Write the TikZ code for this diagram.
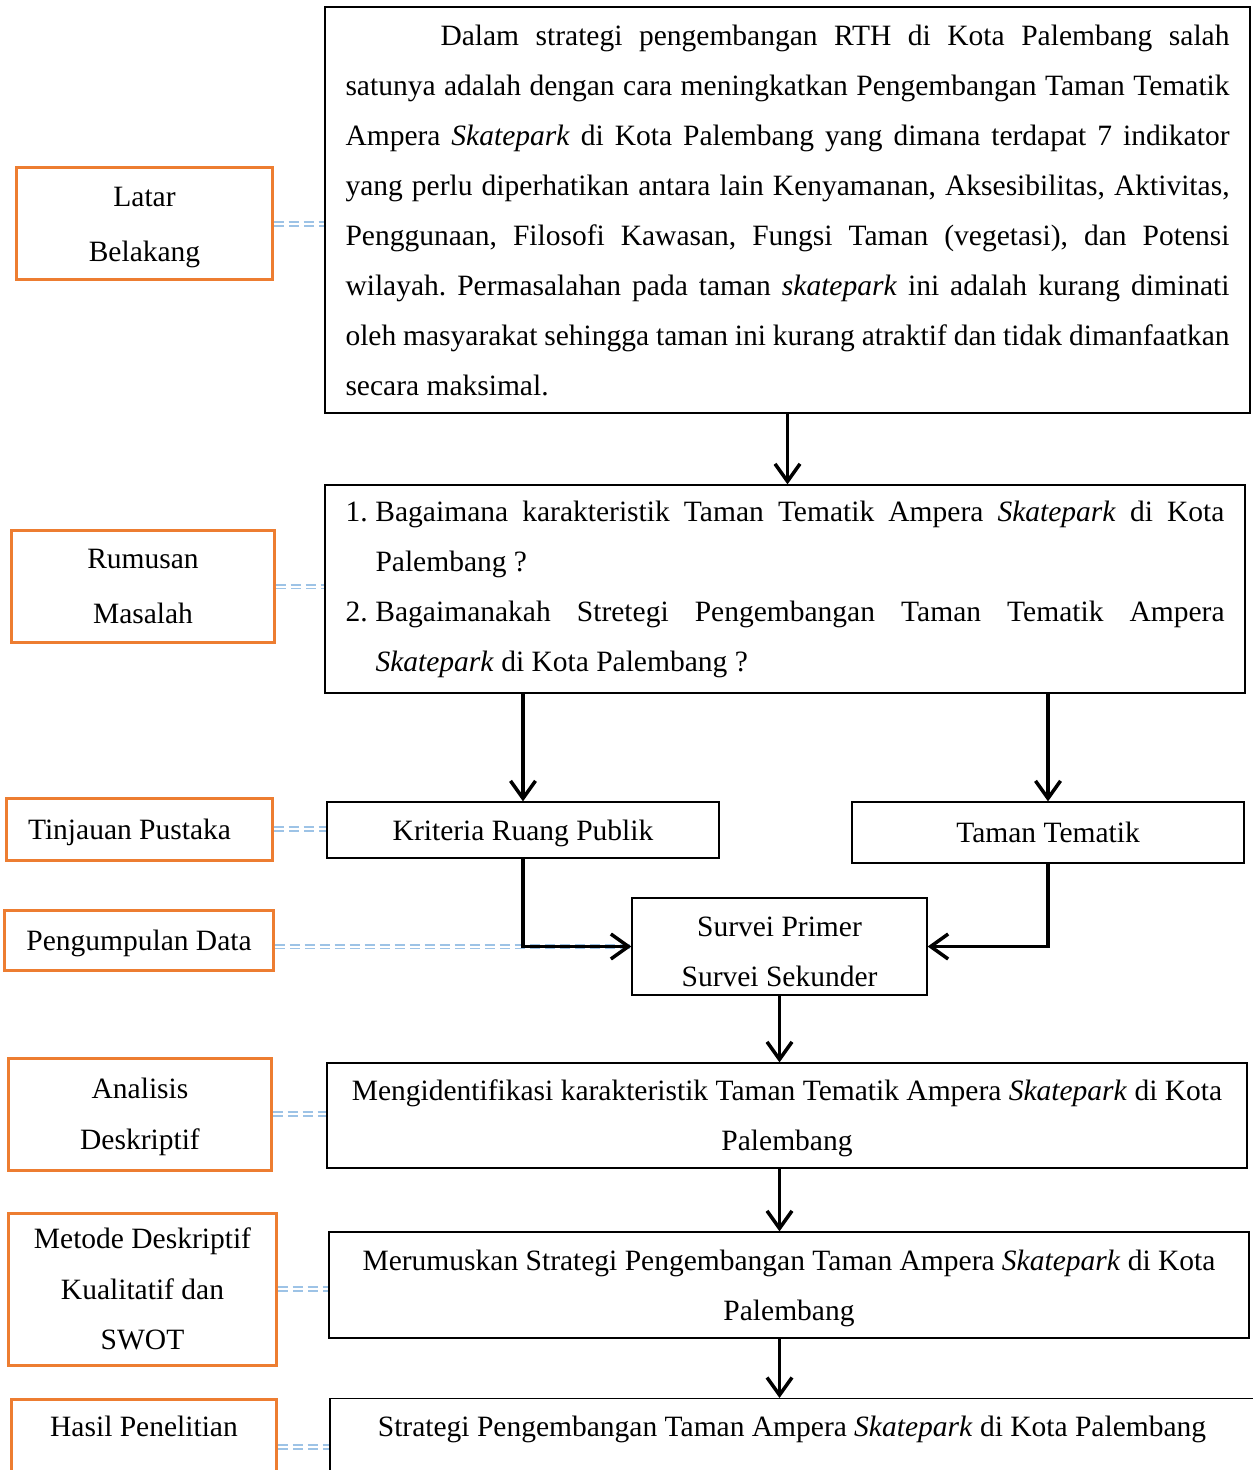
\documentclass[tikz,border=0pt]{standalone}
\usepackage{fontspec}
\setmainfont{Liberation Serif}
\usetikzlibrary{arrows.meta}
\definecolor{kotakOranye}{RGB}{237,125,49}
\definecolor{garisBiru}{RGB}{157,195,230}
\tikzset{
  kotakkiri/.style={draw=kotakOranye, line width=1.2pt, align=center, inner sep=2pt, text depth=0pt, font=\fontsize{11.8pt}{22pt}\selectfont},
  kotakkanan/.style={draw=black, line width=0.5pt, align=center, inner sep=2pt, text depth=0pt, font=\fontsize{11.8pt}{20pt}\selectfont},
  kotakisi/.style={draw=black, line width=0.5pt, align=justify, inner ysep=2pt, inner xsep=8.2pt, font=\fontsize{11.8pt}{20pt}\selectfont\frenchspacing},
  panah/.style={line width=1.4pt, -{Straight Barb[length=7pt,width=10pt]}},
  putus/.style={draw=garisBiru, line width=0.7pt, double=white, double distance=0.8pt, dash pattern=on 4pt off 2pt}
}
\begin{document}
\begin{tikzpicture}[x=0.4pt, y=-0.4pt]
	\useasboundingbox (0,0) rectangle (1252,1470);

	% kolom kiri
	\node[kotakkiri, minimum width=102pt, minimum height=44.8pt] (latar) at (144.5,224) {Latar\\Belakang};
	\node[kotakkiri, minimum width=104.8pt, minimum height=44.4pt] (rumusan) at (143,586.5) {Rumusan\\Masalah};
	\node[kotakkiri, minimum width=106pt, minimum height=24.8pt] (tinjauan) at (139.5,829) {\hspace*{-8pt}Tinjauan Pustaka};
	\node[kotakkiri, minimum width=107.2pt, minimum height=24pt] (pengumpulan) at (139,940) {Pengumpulan Data};
	\node[kotakkiri, minimum width=104.8pt, minimum height=44.8pt, font=\fontsize{11.8pt}{20.4pt}\selectfont] (analisis) at (140,1114) {Analisis\\Deskriptif};
	\node[kotakkiri, minimum width=106.8pt, minimum height=60.8pt, font=\fontsize{11.8pt}{20.2pt}\selectfont] (metode) at (142.5,1289) {Metode Deskriptif\\Kualitatif dan\\SWOT};
	\node[kotakkiri, minimum width=105.6pt, anchor=north, inner ysep=6.8pt, font=\fontsize{11.8pt}{20pt}\selectfont] (hasil) at (144,1398) {Hasil Penelitian\\\mbox{}};

	% kolom kanan
	\node[kotakisi, line width=1pt, text width=353.6pt, minimum height=162.4pt] (latarIsi) at (787.5,210) {\hspace*{38pt}Dalam strategi pengembangan RTH di Kota Palembang salah\linebreak
		satunya adalah dengan cara meningkatkan Pengembangan Taman Tematik\linebreak
		Ampera \textit{Skatepark} di Kota Palembang yang dimana terdapat 7 indikator\linebreak
		yang perlu diperhatikan antara lain Kenyamanan, Aksesibilitas, Aktivitas,\linebreak
		Penggunaan, Filosofi Kawasan, Fungsi Taman (vegetasi), dan Potensi\linebreak
		wilayah. Permasalahan pada taman \textit{skatepark} ini adalah kurang diminati\linebreak
		oleh masyarakat sehingga taman ini kurang atraktif dan tidak dimanfaatkan\linebreak
		secara maksimal.};
	\node[kotakisi, text width=351.6pt, minimum height=83.2pt] (rumusanIsi) at (785,589) {\makebox[12pt][l]{1.}\hangindent=12pt\hangafter=1 Bagaimana karakteristik Taman Tematik Ampera \textit{Skatepark} di Kota\linebreak
		Palembang ?\par
		\makebox[12pt][l]{2.}\hangindent=12pt\hangafter=1 Bagaimanakah Stretegi Pengembangan Taman Tematik Ampera\linebreak
		\textit{Skatepark} di Kota Palembang ?\par};
	\node[kotakkanan, minimum width=156.8pt, minimum height=22.4pt] (kriteria) at (523,830) {Kriteria Ruang Publik};
	\node[kotakkanan, minimum width=156.8pt, minimum height=24.4pt] (taman) at (1048,832.5) {Taman Tematik};
	\node[kotakkanan, minimum width=118pt, minimum height=38.8pt] (survei) at (779.5,946.5) {\rule{0pt}{12pt}Survei Primer\\Survei Sekunder};
	\node[kotakkanan, minimum width=368pt, minimum height=42pt] (identifikasi) at (787,1115.5) {Mengidentifikasi karakteristik Taman Tematik Ampera \textit{Skatepark} di Kota\\Palembang};
	\node[kotakkanan, minimum width=368pt, minimum height=42.4pt] (merumuskan) at (789,1285) {Merumuskan Strategi Pengembangan Taman Ampera \textit{Skatepark} di Kota\\Palembang};
	\node[kotakkanan, minimum width=369.6pt, anchor=north, inner ysep=6.8pt] (strategi) at (792,1398) {Strategi Pengembangan Taman Ampera \textit{Skatepark} di Kota Palembang\\\mbox{}};

	% garis putus-putus
	\draw[putus] (latar.east) -- (latar.east -| latarIsi.west);
	\draw[putus] (rumusan.east) -- (rumusan.east -| rumusanIsi.west);
	\draw[putus] (tinjauan.east) -- (tinjauan.east -| kriteria.west);
	\draw[putus] (pengumpulan.east |- survei.west) -- (survei.west);
	\draw[putus] (analisis.east) -- (analisis.east -| identifikasi.west);
	\draw[putus] (metode.east) -- (metode.east -| merumuskan.west);
	\draw[putus] ([yshift=2pt]hasil.east) -- ([yshift=2pt]hasil.east -| strategi.west);

	% panah
	\draw[panah] (latarIsi.south) -- (latarIsi.south |- rumusanIsi.north);
	\draw[panah] (rumusanIsi.south -| kriteria.north) -- (kriteria.north);
	\draw[panah] (rumusanIsi.south -| taman.north) -- (taman.north);
	\draw[panah] (kriteria.south) |- (survei.west);
	\draw[panah] (taman.south) |- (survei.east);
	\draw[panah] (survei.south) -- (survei.south |- identifikasi.north);
	\draw[panah] (identifikasi.south -| survei.south) -- (merumuskan.north -| survei.south);
	\draw[panah] (merumuskan.south -| survei.south) -- (strategi.north -| survei.south);
\end{tikzpicture}
\end{document}
